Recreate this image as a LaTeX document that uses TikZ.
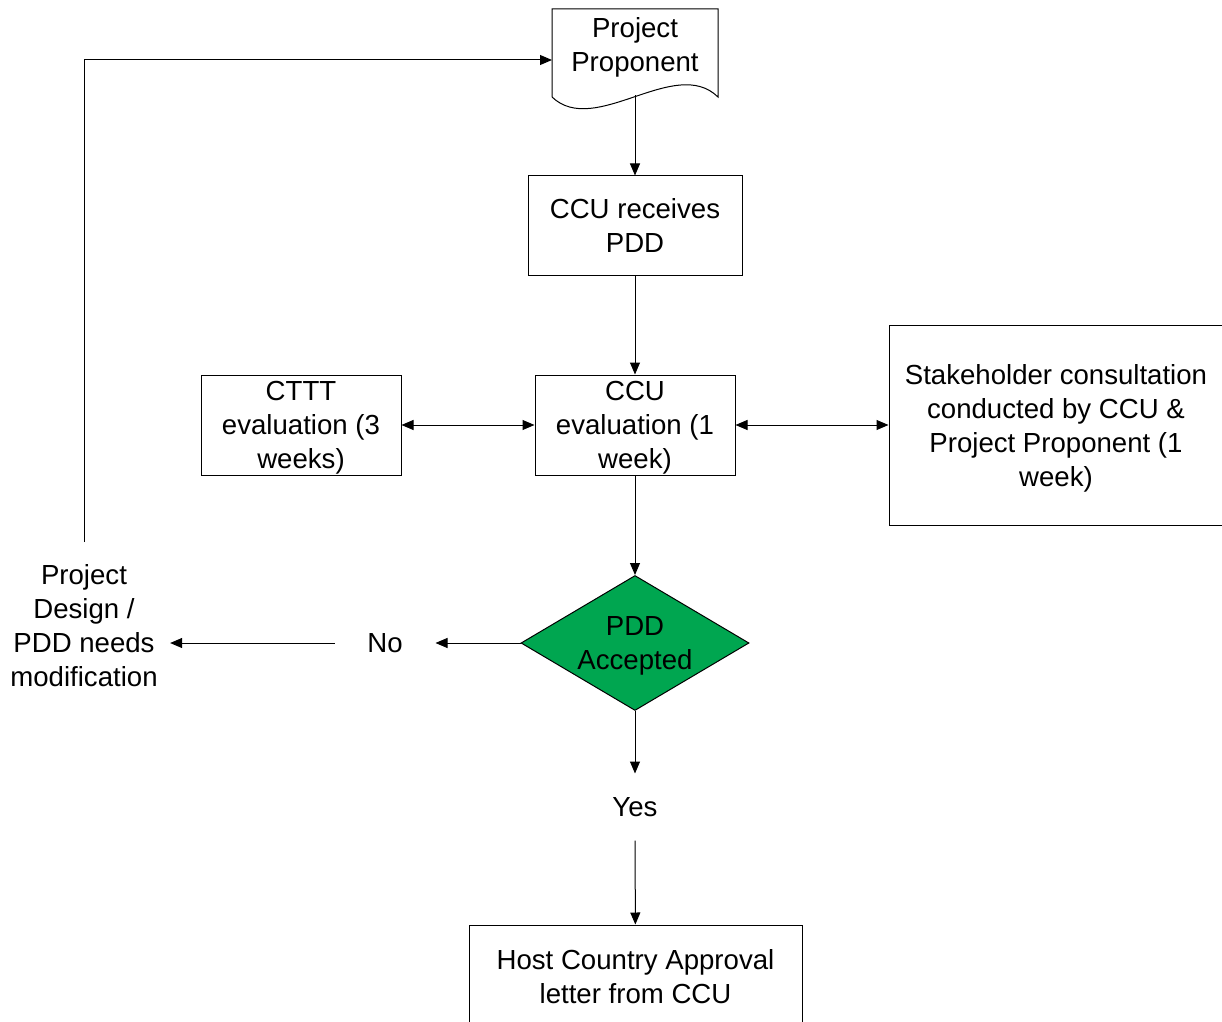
\documentclass[tikz,border=0pt]{standalone}
\usepackage{fontspec}
\setmainfont{Liberation Sans}
\usepackage{xcolor}
\usepackage{tikz}
\usetikzlibrary{shapes.geometric}
\usetikzlibrary{arrows.meta}

\definecolor{accgreen}{RGB}{0,166,80}

\begin{document}
\begin{tikzpicture}[x=0.5pt, y=-0.5pt, line width=0.5pt,
        every node/.style={font=\fontsize{13.8}{17}\selectfont, align=center, text depth=0pt},
        box/.style={draw, rectangle, inner sep=0pt},
        arr/.style={-{Triangle[length=6pt,width=5pt]}},
        darr/.style={{Triangle[length=6pt,width=5pt]}-{Triangle[length=6pt,width=5pt]}}]
            \useasboundingbox (0,0) rectangle (1222,1022);

            % document shape on top
            \draw (552,97) -- (552,9) -- (718,9) -- (718,97)
                .. controls (675,55) and (595,138) .. (552,97);
            \node (prop) at (635,45) {Project\\Proponent};
            \coordinate (propb) at (635,95.5);
            \coordinate (propw) at (552,60);

            \node[box, minimum width=107pt, minimum height=49.5pt] (recv) at (635,225.5) {CCU receives\\PDD};
            \node[box, minimum width=100pt, minimum height=50pt] (eval) at (635,425) {CCU\\evaluation (1\\week)};
            \node[box, minimum width=100pt, minimum height=50pt] (cttt) at (301,425) {CTTT\\evaluation (3\\weeks)};
            \node[box, minimum width=167pt, minimum height=100pt] (stake) at (1056,425)
                {Stakeholder consultation\\conducted by CCU \&\\Project Proponent (1\\week)};

            \node[diamond, draw, fill=accgreen, shape aspect=1.69, inner sep=0pt,
                minimum width=114pt, minimum height=67.5pt] (dec) at (635,643) {PDD\\Accepted};

            \node[minimum width=50pt, inner sep=0pt] (no) at (385,643) {No};
            \node[inner xsep=6pt] (mod) at (84,625) {Project\\Design /\\PDD needs\\modification};
            \coordinate (loopb) at (84,542);

            \node[minimum height=33pt, inner sep=0pt] (yes) at (635,807) {Yes};
            \node[box, minimum width=166.5pt, minimum height=51pt] (host) at (635.5,976)
                {Host Country Approval\\letter from CCU};

            \draw[arr] (propb) -- (recv);
            \draw[arr] (recv) -- (eval);
            \draw[darr] (cttt) -- (eval);
            \draw[darr] (eval) -- (stake);
            \draw[arr] (eval) -- (dec);
            \draw[arr] (dec.west) -- (no.east);
            \draw[arr] (no.west) -- (no.west -| mod.east);
            \draw[arr] (dec) -- (yes);
            \draw[arr] (yes) -- (host);
            \draw[arr] (loopb) |- (propw);
        \end{tikzpicture}
\end{document}
